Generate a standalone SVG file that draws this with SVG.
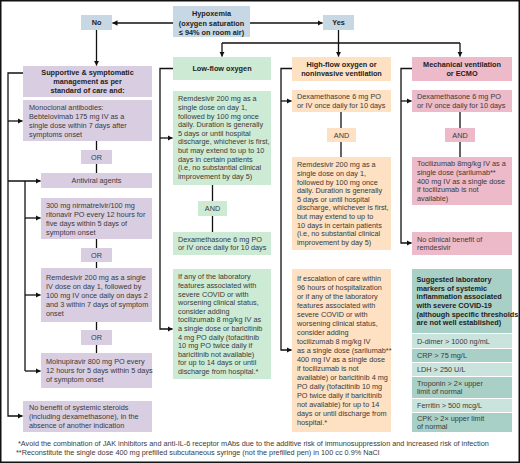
<svg xmlns="http://www.w3.org/2000/svg" width="520" height="463" viewBox="0 0 520 463">
<defs>
<marker id="ah" markerWidth="6" markerHeight="6" refX="5" refY="3" orient="auto" markerUnits="userSpaceOnUse"><path d="M0,0.3 L5.2,3 L0,5.7 z" fill="#111"/></marker>
<style>
text{font-family:"Liberation Sans",Arial,sans-serif;font-size:7.3px;fill:#3a3a3a}
.b{font-weight:bold;fill:#222}
.c{text-anchor:middle}
.blue{fill:#c7d8e4}
.lav{fill:#d9cee1}
.grn{fill:#cdead5}
.pch{fill:#fde1c2}
.pnk{fill:#ecbac8}
.tdk{fill:#a9d0c7}
.tlt{fill:#cae3dd}
.ln{fill:none;stroke:#111;stroke-width:1.3}
.ar{fill:none;stroke:#111;stroke-width:1.3;marker-end:url(#ah)}
</style>
</defs>
<rect x="0.75" y="0.75" width="518.5" height="461.5" fill="#fff" stroke="#111" stroke-width="1.5"/>

<g id="connectors">
<path class="ar" d="M173,23 H112.5"/>
<path class="ar" d="M250,23 H322.5"/>
<path class="ar" d="M96.5,30 V65.5"/>
<path class="ln" d="M338.5,30 V43 M222,43 H460"/>
<path class="ar" d="M222,43 V56.5"/>
<path class="ar" d="M338.5,43 V56.5"/>
<path class="ar" d="M460,43 V56.5"/>
<path class="ar" d="M23,73 H8 V416 H22.5"/>
<path class="ar" d="M8,121 H22.5"/>
<path class="ar" d="M8,181 H40.5"/>
<path class="ln" d="M25,181 V371"/>
<path class="ar" d="M25,218 H40.5"/>
<path class="ar" d="M25,295 H40.5"/>
<path class="ar" d="M25,371 H40.5"/>
<path class="ln" d="M96.5,141 V150 M96.5,164 V173 M96.5,239 V248 M96.5,262 V268 M96.5,322 V330 M96.5,345 V353"/>
<path class="ar" d="M173,68.5 H160 V329 H172.5"/>
<path class="ar" d="M160,138 H172.5"/>
<path class="ln" d="M212.5,185 V201 M212.5,216 V232"/>
<path class="ar" d="M292,68.5 H281 V350 H291.5"/>
<path class="ar" d="M281,101 H291.5"/>
<path class="ln" d="M341,112 V128 M341,142 V157"/>
<path class="ar" d="M412,68.5 H401 V243 H411.5"/>
<path class="ar" d="M401,101 H411.5"/>
<path class="ln" d="M460,112 V128 M460,142 V157"/>
</g>

<g id="hypoxemia"><rect class="blue" x="173" y="6" width="77" height="31"/>
<text class="b c" x="211.5" font-size="7.6"><tspan x="211.5" y="16.4">Hypoxemia</tspan><tspan x="211.5" y="25.6">(oxygen saturation</tspan><tspan x="211.5" y="34.6">≤ 94% on room air)</tspan></text></g>
<g id="no"><rect class="blue" x="81" y="15" width="31" height="15"/><text class="b c" x="96.5" y="25.2">No</text></g>
<g id="yes"><rect class="blue" x="323" y="15" width="31" height="15"/><text class="b c" x="338.5" y="25.2">Yes</text></g>

<g id="supportive"><rect class="lav" x="23" y="66" width="129" height="31"/>
<text class="b c"><tspan x="87.5" y="74.8">Supportive &amp; symptomatic</tspan><tspan x="87.5" y="84.1">management as per</tspan><tspan x="87.5" y="93.4">standard of care and:</tspan></text></g>
<g id="monoclonal"><rect class="lav" x="23" y="100" width="129" height="41"/>
<text><tspan x="29" y="109.6">Monoclonal antibodies:</tspan><tspan x="29" y="118.6">Bebtelovimab 175 mg IV as a</tspan><tspan x="29" y="127.6">single dose within 7 days after</tspan><tspan x="29" y="136.6">symptoms onset</tspan></text></g>
<g id="or1"><rect class="lav" x="81" y="150" width="31" height="14"/><text class="c" x="96.5" y="159.6">OR</text></g>
<g id="antiviral"><rect class="lav" x="41" y="173" width="111" height="15"/><text class="c" x="96.5" y="183.1">Antiviral agents</text></g>
<g id="nirmatrelvir"><rect class="lav" x="41" y="198" width="111" height="41"/>
<text><tspan x="46" y="207.6">300 mg nirmatrelvir/100 mg</tspan><tspan x="46" y="216.6">ritonavir PO every 12 hours for</tspan><tspan x="46" y="225.6">five days within 5 days of</tspan><tspan x="46" y="234.6">symptom onset</tspan></text></g>
<g id="or2"><rect class="lav" x="81" y="248" width="31" height="14"/><text class="c" x="96.5" y="257.6">OR</text></g>
<g id="remdesivir-outpt"><rect class="lav" x="41" y="268" width="111" height="54"/>
<text><tspan x="46" y="279.6">Remdesivir 200 mg as a single</tspan><tspan x="46" y="288.6">IV dose on day 1, followed by</tspan><tspan x="46" y="297.6">100 mg IV once daily on days 2</tspan><tspan x="46" y="306.6">and 3 within 7 days of symptom</tspan><tspan x="46" y="315.6">onset</tspan></text></g>
<g id="or3"><rect class="lav" x="81" y="330" width="31" height="15"/><text class="c" x="96.5" y="340.1">OR</text></g>
<g id="molnupiravir"><rect class="lav" x="41" y="353" width="111" height="35"/>
<text><tspan x="46" y="364.1">Molnupiravir 800 mg PO every</tspan><tspan x="46" y="373.1">12 hours for 5 days within 5 days</tspan><tspan x="46" y="382.1">of symptom onset</tspan></text></g>
<g id="no-steroids"><rect class="lav" x="23" y="401" width="129" height="31"/>
<text><tspan x="29" y="410.1">No benefit of systemic steroids</tspan><tspan x="29" y="419.1">(including dexamethasone), in the</tspan><tspan x="29" y="428.1">absence of another indication</tspan></text></g>

<g id="lowflow"><rect class="grn" x="173" y="57" width="98" height="23"/><text class="b c" x="222" y="70.8" font-size="6.3">Low-flow oxygen</text></g>
<g id="lf-remdesivir"><rect class="grn" x="173" y="91" width="98" height="94"/>
<text><tspan x="178" y="101.4">Remdesivir 200 mg as a</tspan><tspan x="178" y="110">single dose on day 1,</tspan><tspan x="178" y="118.6">followed by 100 mg once</tspan><tspan x="178" y="127.2">daily. Duration is generally</tspan><tspan x="178" y="135.8">5 days or until hospital</tspan><tspan x="178" y="144.4">discharge, whichever is first,</tspan><tspan x="178" y="153">but may extend to up to 10</tspan><tspan x="178" y="161.6">days in certain patients</tspan><tspan x="178" y="170.2">(i.e, no substantial clinical</tspan><tspan x="178" y="178.8">improvement by day 5)</tspan></text></g>
<g id="lf-and"><rect class="grn" x="198" y="201" width="29" height="15"/><text class="c" x="212.5" y="211.1">AND</text></g>
<g id="lf-dex"><rect class="grn" x="173" y="232" width="98" height="23"/>
<text><tspan x="178" y="241.7">Dexamethasone 6 mg PO</tspan><tspan x="178" y="250.3">or IV once daily for 10 days</tspan></text></g>
<g id="lf-ifany"><rect class="grn" x="173" y="269" width="98" height="110"/>
<text><tspan x="178" y="279.3">If any of the laboratory</tspan><tspan x="178" y="287.9">features associated with</tspan><tspan x="178" y="296.5">severe COVID or with</tspan><tspan x="178" y="305.1">worsening clinical status,</tspan><tspan x="178" y="313.7">consider adding</tspan><tspan x="178" y="322.3">tocilizumab 8 mg/kg IV as</tspan><tspan x="178" y="330.9">a single dose or baricitinib</tspan><tspan x="178" y="339.5">4 mg PO daily (tofacitinib</tspan><tspan x="178" y="348.1">10 mg PO twice daily if</tspan><tspan x="178" y="356.7">baricitinib not available)</tspan><tspan x="178" y="365.3">for up to 14 days or until</tspan><tspan x="178" y="373.9">discharge from hospital.*</tspan></text></g>

<g id="highflow"><rect class="pch" x="292" y="57" width="99" height="24"/>
<text class="b c"><tspan x="341.5" y="67.1">High-flow oxygen or</tspan><tspan x="341.5" y="76.1">noninvasive ventilation</tspan></text></g>
<g id="hf-dex"><rect class="pch" x="292" y="90" width="99" height="22"/>
<text><tspan x="297" y="99.3">Dexamethasone 6 mg PO</tspan><tspan x="297" y="107.9">or IV once daily for 10 days</tspan></text></g>
<g id="hf-and"><rect class="pch" x="327" y="128" width="29" height="14"/><text class="c" x="341.5" y="137.6">AND</text></g>
<g id="hf-remdesivir"><rect class="pch" x="292" y="157" width="99" height="93"/>
<text><tspan x="297" y="167.4">Remdesivir 200 mg as a</tspan><tspan x="297" y="176">single dose on day 1,</tspan><tspan x="297" y="184.6">followed by 100 mg once</tspan><tspan x="297" y="193.2">daily. Duration is generally</tspan><tspan x="297" y="201.8">5 days or until hospital</tspan><tspan x="297" y="210.4">discharge, whichever is first,</tspan><tspan x="297" y="219">but may extend to up to</tspan><tspan x="297" y="227.6">10 days in certain patients</tspan><tspan x="297" y="236.2">(i.e, no substantial clinical</tspan><tspan x="297" y="244.8">improvement by day 5)</tspan></text></g>
<g id="hf-escalation"><rect class="pch" x="292" y="269" width="99" height="163"/>
<text><tspan x="297" y="281.1">If escalation of care within</tspan><tspan x="297" y="290.1">96 hours of hospitalization</tspan><tspan x="297" y="299.1">or if any of the laboratory</tspan><tspan x="297" y="308.1">features associated with</tspan><tspan x="297" y="317.1">severe COVID or with</tspan><tspan x="297" y="326.1">worsening clinical status,</tspan><tspan x="297" y="335.1">consider adding</tspan><tspan x="297" y="344.1">tocilizumab 8 mg/kg IV</tspan><tspan x="297" y="353.1">as a single dose (sarilumab**</tspan><tspan x="297" y="362.1">400 mg IV as a single dose</tspan><tspan x="297" y="371.1">if tocilizumab is not</tspan><tspan x="297" y="380.1">available) or baricitinib 4 mg</tspan><tspan x="297" y="389.1">PO daily (tofacitinib 10 mg</tspan><tspan x="297" y="398.1">PO twice daily if baricitinib</tspan><tspan x="297" y="407.1">not available) for up to 14</tspan><tspan x="297" y="416.1">days or until discharge from</tspan><tspan x="297" y="425.1">hospital.*</tspan></text></g>

<g id="mechanical"><rect class="pnk" x="412" y="57" width="100" height="24"/>
<text class="b c"><tspan x="462" y="67.1">Mechanical ventilation</tspan><tspan x="462" y="76.1">or ECMO</tspan></text></g>
<g id="mv-dex"><rect class="pnk" x="412" y="90" width="100" height="22"/>
<text><tspan x="417" y="99.3">Dexamethasone 6 mg PO</tspan><tspan x="417" y="107.9">or IV once daily for 10 days</tspan></text></g>
<g id="mv-and"><rect class="pnk" x="445" y="128" width="30" height="14"/><text class="c" x="460" y="137.6">AND</text></g>
<g id="mv-tocilizumab"><rect class="pnk" x="412" y="157" width="100" height="48"/>
<text><tspan x="417" y="166.4">Tocilizumab 8mg/kg IV as a</tspan><tspan x="417" y="175">single dose (sarilumab**</tspan><tspan x="417" y="183.6">400 mg IV as a single dose</tspan><tspan x="417" y="192.2">if tocilizumab is not</tspan><tspan x="417" y="200.8">available)</tspan></text></g>
<g id="mv-noremdesivir"><rect class="pnk" x="412" y="232" width="100" height="23"/>
<text><tspan x="417" y="241.7">No clinical benefit of</tspan><tspan x="417" y="250.3">remdesivir</tspan></text></g>

<g id="lab-markers">
<rect class="tdk" x="412" y="269" width="100" height="64"/>
<text class="b" font-size="6.7"><tspan x="416.5" y="282.1">Suggested laboratory</tspan><tspan x="416.5" y="290.7">markers of systemic</tspan><tspan x="416.5" y="299.3">inflammation associated</tspan><tspan x="416.5" y="307.9">with severe COVID-19</tspan><tspan x="416.5" y="316.5">(although specific thresholds</tspan><tspan x="416.5" y="325.1">are not well established)</tspan></text>
<rect class="tlt" x="412" y="334" width="100" height="14"/><text x="417" y="343.6">D-dimer &gt; 1000 ng/mL</text>
<rect class="tdk" x="412" y="349" width="100" height="13"/><text x="417" y="358.1">CRP &gt; 75 mg/L</text>
<rect class="tlt" x="412" y="363" width="100" height="13"/><text x="417" y="372.1">LDH &gt; 250 U/L</text>
<rect class="tdk" x="412" y="377" width="100" height="21"/><text><tspan x="417" y="385.8">Troponin &gt; 2× upper</tspan><tspan x="417" y="394.4">limit of normal</tspan></text>
<rect class="tlt" x="412" y="399" width="100" height="13"/><text x="417" y="408.1">Ferritin &gt; 500 mcg/L</text>
<rect class="tdk" x="412" y="413" width="100" height="19"/><text><tspan x="417" y="420.8">CPK &gt; 2× upper limit</tspan><tspan x="417" y="429.4">of normal</tspan></text>
</g>

<g id="footnotes">
<text x="18" y="445.5" font-size="6.85">*Avoid the combination of JAK inhibitors and anti-IL-6 receptor mAbs due to the additive risk of immunosuppression and increased risk of infection</text>
<text x="16" y="455" font-size="6.85">**Reconstitute the single dose 400 mg prefilled subcutaneous syringe (not the prefilled pen) in 100 cc 0.9% NaCl</text>
</g>
</svg>
